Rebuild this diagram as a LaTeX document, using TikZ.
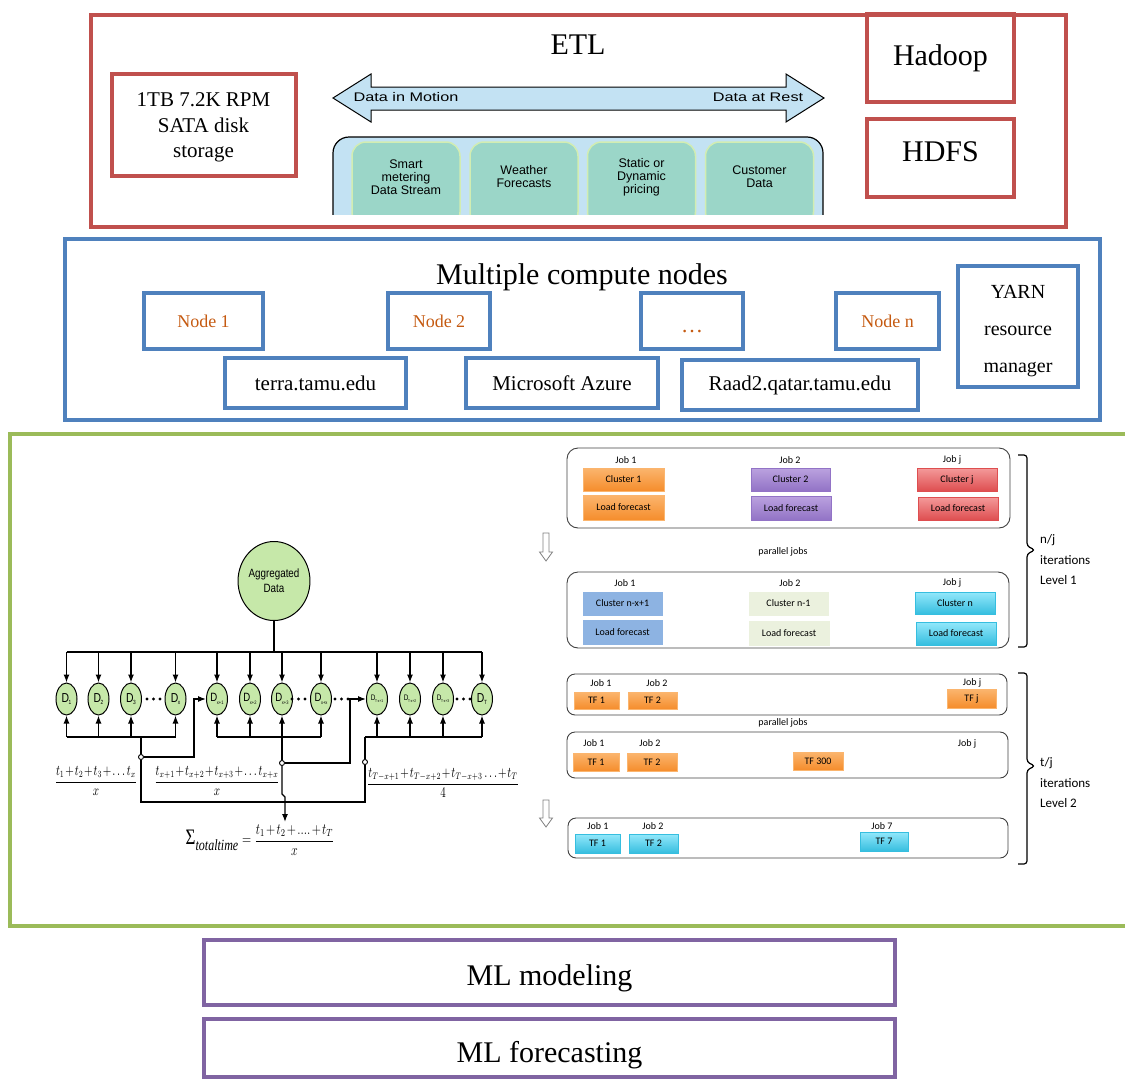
\documentclass[tikz,border=0pt]{standalone}
\usepackage{fontspec}
\usepackage{graphicx}
\setmainfont{Liberation Serif}
\newfontfamily\arialf{Liberation Sans}
\newfontfamily\calibf{Carlito}
\usetikzlibrary{arrows.meta,shapes.geometric}
\definecolor{cred}{HTML}{C0504D}
\definecolor{cblue}{HTML}{4F81BD}
\definecolor{cgreen}{HTML}{9BBB59}
\definecolor{cpurple}{HTML}{8064A2}
\definecolor{cbrown}{HTML}{C55A11}
\definecolor{skyfill}{HTML}{C3E2F3}
\definecolor{tealfill}{HTML}{9BD6C8}
\definecolor{tealedge}{HTML}{D2EDB2}
\definecolor{dgreen}{HTML}{C6E8A9}
\definecolor{orgT}{HTML}{FBB56E}
\definecolor{orgB}{HTML}{F58D2C}
\definecolor{purT}{HTML}{BBA2DF}
\definecolor{purB}{HTML}{9273C6}
\definecolor{redT}{HTML}{F49A9A}
\definecolor{redB}{HTML}{DE4E50}
\definecolor{bluF}{HTML}{8DB3E2}
\definecolor{paleF}{HTML}{EBF1DE}
\definecolor{cyaT}{HTML}{93E8FB}
\definecolor{cyaB}{HTML}{36BEDF}
\definecolor{frameg}{HTML}{404040}
\newcommand\dlab[3]{\scalebox{0.8}[1]{\arialf\fontsize{#1}{#1}\selectfont D\kern-0.04em\raisebox{-0.22em}{\fontsize{#2}{#2}\selectfont #3}}}
\newcommand\nar[1]{\scalebox{0.82}[1]{#1}}
\begin{document}
\begin{tikzpicture}[x=1pt,y=-1pt,
  thickbox/.style={draw=#1,line width=4,inner sep=0},
  big/.style={font=\fontsize{30}{30}\selectfont},
  mid/.style={font=\fontsize{21}{21}\selectfont},
  nodebox/.style={thickbox=cblue,minimum height=56,text=cbrown,font=\fontsize{18}{18}\selectfont},
  srcbox/.style={draw=tealedge,line width=1.5,fill=tealfill,rounded corners=14,minimum width=108,minimum height=84},
  srctext/.style={align=center,font=\arialf\fontsize{12.5}{13}\selectfont,inner sep=0},
  arrowtext/.style={font=\arialf\fontsize{12.5}{12.5}\selectfont,inner sep=0},
  dnode/.style={ellipse,draw,line width=1,fill=dgreen,minimum width=21,minimum height=32,inner sep=0},
  wire/.style={line width=1.2},
  arr/.style={line width=1.2,-{Latex[length=8,width=6]}},
  junc/.style={circle,draw,line width=0.9,fill=white,inner sep=0,minimum size=5},
  dotm/.style={circle,fill=black,inner sep=0,minimum size=3.4},
  frm/.style={inner sep=0,font=\fontsize{10.5}{10.5}\selectfont},
  grp/.style={draw=frameg,line width=0.9,rounded corners=11},
  joblab/.style={inner sep=0,font=\calibf\fontsize{10}{10}\selectfont},
  jbox/.style={inner sep=0,font=\calibf\fontsize{10}{10}\selectfont,line width=0.6},
  orgbox/.style={jbox,top color=orgT,bottom color=orgB,draw=orgT},
  purbox/.style={jbox,top color=purT,bottom color=purB,draw=purB},
  redbox/.style={jbox,top color=redT,bottom color=redB,draw=redB},
  blubox/.style={jbox,fill=bluF,draw=bluF},
  palebox/.style={jbox,fill=paleF,draw=paleF},
  cyabox/.style={jbox,top color=cyaT,bottom color=cyaB,draw=cyaB},
  hollow/.style={draw=gray,line width=0.8,fill=white},
  brace/.style={line width=1.2,rounded corners=3},
  bracetext/.style={anchor=west,align=left,inner sep=0,font=\calibf\fontsize{13}{20.5}\selectfont}
]
\useasboundingbox (0,0) rectangle (1125,1079);

% ---------------- ETL ----------------
\node[thickbox=cred,minimum width=975,minimum height=212] (etl) at (578,120.5) {};
\node[big] (etltitle) at (578,45) {ETL};
\node[thickbox=cred,minimum width=184,minimum height=102] (disk) at (203.5,124.5) {};
\node[align=center,inner sep=0,font=\fontsize{21}{25.5}\selectfont] (disktxt) at (203.5,127.5) {1TB 7.2K RPM\\SATA disk\\storage};
\node[thickbox=cred,minimum width=147,minimum height=88] (hadoop) at (940.5,58) {};
\node[big] (hadooptxt) at (940.5,58) {Hadoop};
\node[thickbox=cred,minimum width=147,minimum height=78] (hdfs) at (940.5,158) {};
\node[big] (hdfstxt) at (940.5,152) {HDFS};

\filldraw[fill=skyfill,draw=black,line width=1] (333,98) -- (371,74) -- (371,87) -- (786,87) -- (786,74) -- (824,98) -- (786,122) -- (786,110) -- (371,110) -- (371,122) -- cycle;
\node[arrowtext] (motion) at (406,97) {\scalebox{1.3}[1]{Data in Motion}};
\node[arrowtext] (rest) at (758,97) {\scalebox{1.3}[1]{Data at Rest}};

\begin{scope}
  \clip (300,128) rectangle (850,214.5);
  \node[draw=black,line width=1.2,fill=skyfill,rounded corners=16,minimum width=490,minimum height=104] (srcs) at (578,189) {};
  \node[srcbox] (s1) at (406,184) {};
  \node[srcbox] (s2) at (524,184) {};
  \node[srcbox] (s3) at (641.5,184) {};
  \node[srcbox] (s4) at (759.5,184) {};
\end{scope}
\node[srctext] (s1t) at (406,177) {Smart\\metering\\Data Stream};
\node[srctext] (s2t) at (524,177) {Weather\\Forecasts};
\node[srctext] (s3t) at (641.5,177) {Static or\\Dynamic\\pricing};
\node[srctext] (s4t) at (759.5,177) {Customer\\Data};

% ---------------- compute ----------------
\node[thickbox=cblue,minimum width=1035,minimum height=181] (compute) at (582.5,329.5) {};
\node[big,text depth=0pt] (computetitle) at (582,274) {Multiple compute nodes};
\node[nodebox,minimum width=119] (n1) at (203.5,321) {Node 1};
\node[nodebox,minimum width=102] (n2) at (439,321) {Node 2};
\node[nodebox,minimum width=102] (ndots) at (692,321) {};
\node[text=cbrown,font=\fontsize{22}{22}\selectfont] (ndotstxt) at (692,332) {\ldots};
\node[nodebox,minimum width=103] (nn) at (887.5,321) {Node n};
\node[thickbox=cblue,minimum width=120,minimum height=121] (yarn) at (1018,326.5) {};
\node[align=center,inner sep=0,font=\fontsize{20}{37}\selectfont] (yarntxt) at (1018,331) {YARN\\resource\\manager};
\node[thickbox=cblue,minimum width=181,minimum height=50,mid] (terra) at (315.5,383) {terra.tamu.edu};
\node[thickbox=cblue,minimum width=192,minimum height=50,mid] (azure) at (562,383) {Microsoft Azure};
\node[thickbox=cblue,minimum width=236,minimum height=50,mid] (raad) at (800,385) {Raad2.qatar.tamu.edu};

% ---------------- green section ----------------
\node[thickbox=cgreen,minimum width=1130,minimum height=492] (workflow) at (575,680) {};

% left diagram
\node[ellipse,draw,line width=1,fill=dgreen,minimum width=61,minimum height=79,inner sep=0,align=center,font=\arialf\fontsize{12}{15}\selectfont] (agg) at (274,581) {\nar{Aggregated}\\\nar{Data}};

\node[dnode] (d1) at (66.5,699) {\dlab{13}{6}{1}};
\node[dnode] (d2) at (98.5,699) {\dlab{13}{6}{2}};
\node[dnode] (d3) at (131,699) {\dlab{13}{6}{3}};
\node[dnode] (d4) at (175.5,699) {\dlab{13}{6}{x}};
\node[dnode] (d5) at (217,699) {\dlab{12}{5}{x+1}};
\node[dnode] (d6) at (250,699) {\dlab{12}{5}{x+2}};
\node[dnode] (d7) at (282,699) {\dlab{12}{5}{x+3}};
\node[dnode] (d8) at (321,699) {\dlab{12}{5}{x+x}};
\node[dnode] (d9) at (377,699) {\dlab{8}{4}{T-x+1}};
\node[dnode] (d10) at (410,699) {\dlab{8}{4}{T-x+2}};
\node[dnode] (d11) at (443,699) {\dlab{8}{4}{T-x+3}};
\node[dnode] (d12) at (482,699) {\dlab{13}{6}{T}};

\foreach \x in {147,153.5,160, 292,298.5,305, 335,341.5,348, 457,463.5,470}
  \node[dotm] at (\x,699) {};

\coordinate (tb) at (0,652);
\coordinate (bb) at (0,737);
\coordinate (bl) at (0,802);
\draw[wire] (agg.south) -- (agg.south |- tb);
\draw[wire] (d1 |- tb) -- (d12 |- tb);
\foreach \i in {1,...,12} \draw[arr] (d\i |- tb) -- (d\i.north);

% group 1
\draw[wire] (d1 |- bb) -- (d4 |- bb);
\foreach \i in {1,...,4} \draw[arr] (d\i |- bb) -- (d\i.south);
% group 2
\draw[wire] (d5 |- bb) -- (d8 |- bb);
\foreach \i in {5,...,8} \draw[arr] (d\i |- bb) -- (d\i.south);
% group 3
\coordinate (g3) at (365,737);
\draw[wire] (g3) -- (d12 |- bb);
\foreach \i in {9,...,12} \draw[arr] (d\i |- bb) -- (d\i.south);

\node[junc] (c1) at (141,757) {};
\node[junc] (c2) at (282,763) {};
\node[junc] (c3) at (365,762) {};
\coordinate (j1) at (141,737);
\coordinate (k1) at (194,699);
\coordinate (k2) at (350,699);
\draw[wire] (j1) -- (c1.north);
\draw[arr] (c1.east) -| (k1) -- (d5.west);
\draw[wire] (d7 |- bb) -- (c2.north);
\draw[arr] (c2.east) -| (k2) -- (d9.west);
\draw[wire] (g3) -- (c3.north);
\draw[wire] (c1.south) -- (c1 |- bl) -- (c3 |- bl) -- (c3.south);
\coordinate (jog1) at (282,794);
\coordinate (jog2) at (285,797);
\coordinate (sumin) at (285,822);
\draw[arr] (c2.south) -- (jog1) -- (jog2) -- (sumin);

\node[frm] (f1) at (96,781) {\scalebox{1}[1.35]{$\medmuskip=1.5mu\displaystyle\frac{t_1+t_2+t_3+\ldots t_x}{x}$}};
\node[frm] (f2) at (217,781) {\scalebox{1}[1.35]{$\medmuskip=1.5mu\displaystyle\frac{t_{x+1}+t_{x+2}+t_{x+3}+\ldots t_{x+x}}{x}$}};
\node[frm] (f3) at (443,783) {\scalebox{1}[1.35]{$\medmuskip=1.5mu\displaystyle\frac{t_{T-x+1}+t_{T-x+2}+t_{T-x+3}\ldots+t_T}{4}$}};
\node[inner sep=0,font=\fontsize{12}{12}\selectfont] (sum) at (260,840) {\scalebox{1}[1.3]{$\medmuskip=2mu\mbox{\fontsize{17}{17}\selectfont Σ}_{\textstyle\mathit{totaltime}} = \displaystyle\frac{t_1+t_2+....+t_T}{x}$}};

% right diagram : level 1
\filldraw[hollow] (543,533) -- (549,533) -- (549,552) -- (552.5,552) -- (546,561) -- (539.5,552) -- (543,552) -- cycle;
\filldraw[hollow] (543,800) -- (549,800) -- (549,818) -- (552.5,818) -- (546,827) -- (539.5,818) -- (543,818) -- cycle;

\node[grp,minimum width=443,minimum height=80] (l1a) at (788.5,488) {};
\node[joblab] (l1aj1) at (626,460) {Job 1};
\node[joblab] (l1aj2) at (790,460) {Job 2};
\node[joblab] (l1ajj) at (952,460) {Job j};
\node[orgbox,minimum width=81,minimum height=23] (cl1) at (623.5,479.5) {Cluster 1};
\node[orgbox,minimum width=81,minimum height=25] (lf1) at (623.5,507.5) {Load forecast};
\node[purbox,minimum width=79,minimum height=23] (cl2) at (790.5,479.5) {Cluster 2};
\node[purbox,minimum width=80,minimum height=24] (lf2) at (791,508) {Load forecast};
\node[redbox,minimum width=80,minimum height=23] (clj) at (957,479.5) {Cluster j};
\node[redbox,minimum width=80,minimum height=23] (lfj) at (958,508.5) {Load forecast};

\node[joblab] (par1) at (783,552) {parallel jobs};

\node[grp,minimum width=442,minimum height=76] (l1b) at (788,610) {};
\node[joblab] (l1bj1) at (625,583) {Job 1};
\node[joblab] (l1bj2) at (790,583) {Job 2};
\node[joblab] (l1bjj) at (952,583) {Job j};
\node[blubox,minimum width=79,minimum height=23] (cnx) at (622.5,603.5) {Cluster n-x+1};
\node[blubox,minimum width=79,minimum height=24] (lfnx) at (622.5,632) {Load forecast};
\node[palebox,minimum width=79,minimum height=23] (cn1) at (788.5,603.5) {Cluster n-1};
\node[palebox,minimum width=80,minimum height=24] (lfn1) at (789,633) {Load forecast};
\node[cyabox,minimum width=80,minimum height=22] (cn) at (955,603) {Cluster n};
\node[cyabox,minimum width=80,minimum height=23] (lfn) at (956,633.5) {Load forecast};

% level 2
\node[grp,minimum width=440,minimum height=41,rounded corners=8] (l2a) at (787,694.5) {};
\node[joblab] (l2aj1) at (601,683) {Job 1};
\node[joblab] (l2aj2) at (657,683) {Job 2};
\node[joblab] (l2ajj) at (972,683) {Job j};
\node[orgbox,minimum width=45,minimum height=17] (tfa1) at (596.5,700.5) {TF 1};
\node[orgbox,minimum width=49,minimum height=17] (tfa2) at (652.5,700.5) {TF 2};
\node[orgbox,minimum width=49,minimum height=19] (tfaj) at (971.5,698.5) {TF j};

\node[joblab] (par2) at (783,723) {parallel jobs};

\node[grp,minimum width=441,minimum height=46,rounded corners=8] (l2b) at (787.5,755) {};
\node[joblab] (l2bj1) at (594,743) {Job 1};
\node[joblab] (l2bj2) at (650,743) {Job 2};
\node[joblab] (l2bjj) at (967,744) {Job j};
\node[orgbox,minimum width=46,minimum height=18] (tfb1) at (596,762) {TF 1};
\node[orgbox,minimum width=50,minimum height=18] (tfb2) at (652,762) {TF 2};
\node[orgbox,minimum width=50,minimum height=18] (tfb3) at (818,761) {TF 300};

\node[grp,minimum width=440,minimum height=40,rounded corners=8] (l2c) at (788,838) {};
\node[joblab] (l2cj1) at (598,826) {Job 1};
\node[joblab] (l2cj2) at (653,826) {Job 2};
\node[joblab] (l2cj7) at (882,826) {Job 7};
\node[cyabox,minimum width=45,minimum height=19] (tfc1) at (597.5,843.5) {TF 1};
\node[cyabox,minimum width=49,minimum height=19] (tfc2) at (653.5,843.5) {TF 2};
\node[cyabox,minimum width=48,minimum height=19] (tfc7) at (884,841.5) {TF 7};

% braces
\draw[brace] (1018,455) -- (1027,455) -- (1027,546) -- (1035,550) -- (1027,554) -- (1027,647) -- (1018,647);
\draw[brace] (1018,673) -- (1027,673) -- (1027,762) -- (1035,766) -- (1027,770) -- (1027,864) -- (1018,864);
\node[bracetext] (lev1) at (1040,560) {n/j\\iterations\\Level 1};
\node[bracetext] (lev2) at (1040,783) {t/j\\iterations\\Level 2};

% ---------------- ML ----------------
\node[thickbox=cpurple,minimum width=691,minimum height=65] (mlmod) at (549.5,972.5) {};
\node[big,text depth=0pt] (mlmodtxt) at (549.5,975) {ML modeling};
\node[thickbox=cpurple,minimum width=691,minimum height=58] (mlfc) at (549.5,1048) {};
\node[big,text depth=0pt] (mlfctxt) at (549.5,1052) {ML forecasting};
\end{tikzpicture}
\end{document}
